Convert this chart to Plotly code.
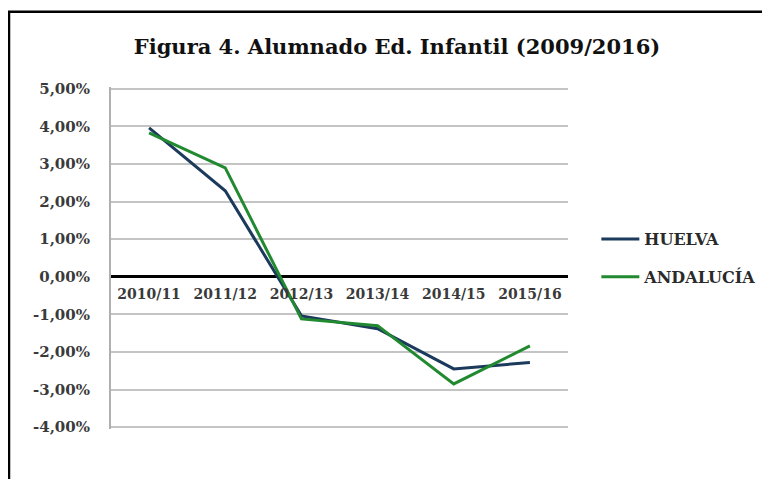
import plotly.graph_objects as go

categories = ["2010/11", "2011/12", "2012/13", "2013/14", "2014/15", "2015/16"]
huelva = [3.96, 2.29, -1.04, -1.38, -2.45, -2.28]
andalucia = [3.83, 2.90, -1.12, -1.30, -2.85, -1.84]
y_ticks = [5, 4, 3, 2, 1, 0, -1, -2, -3, -4]
y_tick_labels = ["5,00%", "4,00%", "3,00%", "2,00%", "1,00%", "0,00%",
                 "-1,00%", "-2,00%", "-3,00%", "-4,00%"]

FONT = "DejaVu Serif"
W, H = 762, 471  # page body has an 8px margin
PAD = 0.05
Y0, Y1 = -4 - PAD, 5 + PAD
PX = 338 / 9  # pixels per unit

fig = go.Figure()
fig.add_trace(go.Scatter(x=categories, y=huelva, mode="lines", name="HUELVA",
                         line=dict(color="#1b3a5c", width=3), legendgroup="a"))
fig.add_trace(go.Scatter(x=categories, y=andalucia, mode="lines", name="ANDALUCÍA",
                         line=dict(color="#21892f", width=3), legendgroup="b"))

L, R = 103, 202
top = 81 - PAD * PX
bottom = 52 - PAD * PX
plot_h = H - top - bottom
plot_w = W - L - R
frame_top = (H - bottom - 4) / plot_h
frame_left = (1 - L) / plot_w

fig.update_layout(
    width=W, height=H,
    margin=dict(l=L, r=R, t=top, b=bottom, autoexpand=False),
    paper_bgcolor="white", plot_bgcolor="white",
    font=dict(family=FONT, size=13, color="#3a3a3a"),
    title=dict(text="<b>Figura 4. Alumnado Ed. Infantil (2009/2016)</b>",
               x=389 / W, xref="container", xanchor="center",
               y=1 - 39 / H, yref="container", yanchor="middle",
               font=dict(family=FONT, size=21, color="#111111")),
    showlegend=True,
    legend=dict(x=1.062, y=0.605, xanchor="left", yanchor="top",
                font=dict(family=FONT, size=16, color="#2a2a2a", weight="bold"),
                itemwidth=38, tracegroupgap=14, bgcolor="rgba(0,0,0,0)"),
    xaxis=dict(type="category", anchor="free", position=(0 - Y0) / (Y1 - Y0),
               showline=False, showgrid=False, ticks="",
               ticklabelstandoff=7,
               tickfont=dict(family=FONT, size=14, color="#3a3a3a", weight="bold"),
               range=[-0.5, 5.5]),
    yaxis=dict(range=[Y0, Y1], tickvals=y_ticks, ticktext=y_tick_labels,
               showgrid=True, gridcolor="#c4c4c4", gridwidth=2,
               zeroline=True, zerolinecolor="#000000", zerolinewidth=2.5,
               showline=True, linecolor="#b0b0b0", linewidth=2,
               ticks="", ticklabelstandoff=16,
               tickfont=dict(family=FONT, size=15, color="#3a3a3a", weight="bold")),
    shapes=[dict(type="rect", xref="paper", yref="paper",
                 x0=frame_left, x1=1.6, y0=-0.5, y1=frame_top,
                 line=dict(color="black", width=2.5), layer="below")],
)
fig.write_html("out.html")
